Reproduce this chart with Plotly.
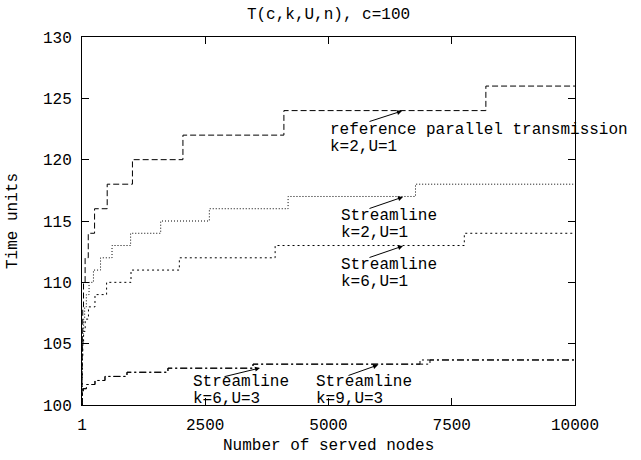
import plotly.graph_objects as go

# Reference parallel transmission k=2,U=1 (dashed)
ref_n = [1, 2, 4, 8, 16, 32, 64, 128, 256, 512, 1024, 2048, 4096, 8192, 10000]
ref_t = [100, 102, 104, 106, 108, 110, 112, 114, 116, 118, 120, 122, 124, 126, 126]

# Streamline k=2,U=1 (dotted)
s21_n = [1, 2, 3, 5, 8, 13, 21, 34, 55, 89, 144, 233, 377, 610, 987, 1597, 2584, 4181, 6765, 10000]
s21_t = [100, 101, 102, 103, 104, 105, 106, 107, 108, 109, 110, 111, 112, 113, 114, 115, 116, 117, 118, 118]

# Streamline k=6,U=1 (dotted)
s61_n = [1, 2, 3, 5, 9, 17, 33, 66, 132, 264, 500, 995, 1975, 3918, 7755, 10000]
s61_t = [100, 101, 102, 103, 104, 105, 106, 107, 108, 109, 110, 111, 112, 113, 114, 114]

# Streamline k=6,U=3 (dash-dot)
s63_n = [1, 2, 4, 8, 25, 90, 264, 467, 913, 1744, 3469, 6856, 10000]
s63_t = [100, 100.33, 100.67, 101, 101.33, 101.67, 102, 102.33, 102.67, 103, 103.33, 103.67, 103.67]

# Streamline k=9,U=3 (dash-dot)
s93_n = [1, 2, 4, 8, 25, 90, 264, 467, 913, 1744, 3469, 7059, 10000]
s93_t = [100, 100.33, 100.67, 101, 101.33, 101.67, 102, 102.33, 102.67, 103, 103.33, 103.67, 103.67]

x_ticks = [1, 2500, 5000, 7500, 10000]
y_ticks = [100, 105, 110, 115, 120, 125, 130]

FONT = "Liberation Mono"
FS = 16

fig = go.Figure()
line_specs = [
    (ref_n, ref_t, "6px,3px"),
    (s21_n, s21_t, "1px,2px"),
    (s61_n, s61_t, "2px,3px"),
    (s63_n, s63_t, "7px,3px,2px,3px"),
    (s93_n, s93_t, "7px,3px,2px,3px"),
]
for xs, ys, dash in line_specs:
    fig.add_trace(go.Scatter(x=xs, y=ys, mode="lines", line=dict(color="black", width=1, dash=dash, shape="hv"),
                             showlegend=False, hoverinfo="skip"))

# Plot area in pixels
L, R, T, B = 82, 575, 37, 405
W, H = R - L, B - T

def px(x):
    return (x - L) / W

def py(y):
    return (B - y) / H

def text(x, y, s):
    fig.add_annotation(x=px(x), y=py(y), xref="x domain", yref="y domain", text=s, showarrow=False,
                       xanchor="left", yanchor="middle", font=dict(family=FONT, size=FS, color="black"))

def arrow(x0, y0, x1, y1):
    fig.add_annotation(x=px(x1), y=py(y1), ax=px(x0), ay=py(y0), xref="x domain", yref="y domain",
                       axref="x domain", ayref="y domain", text="", showarrow=True, arrowhead=2,
                       arrowsize=1, arrowwidth=1, arrowcolor="black")

text(328, 130, "reference parallel transmission")
text(328, 147, "k=2,U=1")
arrow(368, 122, 402, 111)

text(339, 216, "Streamline")
text(339, 233, "k=2,U=1")
arrow(368, 209, 403, 197)

text(339, 265, "Streamline")
text(339, 282, "k=6,U=1")
arrow(368, 258, 403, 246)

text(191, 382, "Streamline")
text(191, 399, "k=6,U=3")
arrow(223, 377, 260, 368)

text(314, 382, "Streamline")
text(314, 399, "k=9,U=3")
arrow(347, 376, 378, 365)

# axis titles
fig.add_annotation(x=0.5, y=py(446), xref="x domain", yref="y domain", text="Number of served nodes", showarrow=False,
                   xanchor="center", yanchor="middle", font=dict(family=FONT, size=FS, color="black"))
fig.add_annotation(x=px(13), y=0.5, xref="x domain", yref="y domain", text="Time units", showarrow=False, textangle=-90,
                   xanchor="center", yanchor="middle", font=dict(family=FONT, size=FS, color="black"))

fig.update_layout(
    width=641, height=460,
    margin=dict(l=L, r=641 - R, t=T, b=460 - B),
    paper_bgcolor="white", plot_bgcolor="white",
    title=dict(text="T(c,k,U,n), c=100", x=0.5, xref="paper", y=1 - 13 / 460, yanchor="middle",
               font=dict(family=FONT, size=FS, color="black")),
    font=dict(family=FONT, size=FS, color="black"),
)
fig.update_xaxes(range=[1, 10000], tickvals=x_ticks, ticktext=[str(v) for v in x_ticks],
                 showgrid=False, zeroline=False, showline=True, linecolor="black", linewidth=1,
                 mirror="ticks", ticks="inside", ticklen=7, tickcolor="black", ticklabelstandoff=5,
                 tickfont=dict(family=FONT, size=FS, color="black"))
fig.update_yaxes(range=[100, 130], tickvals=y_ticks, ticktext=[str(v) for v in y_ticks],
                 showgrid=False, zeroline=False, showline=True, linecolor="black", linewidth=1,
                 mirror="ticks", ticks="inside", ticklen=7, tickcolor="black", ticklabelstandoff=6,
                 tickfont=dict(family=FONT, size=FS, color="black"))

fig.write_html("out.html")
